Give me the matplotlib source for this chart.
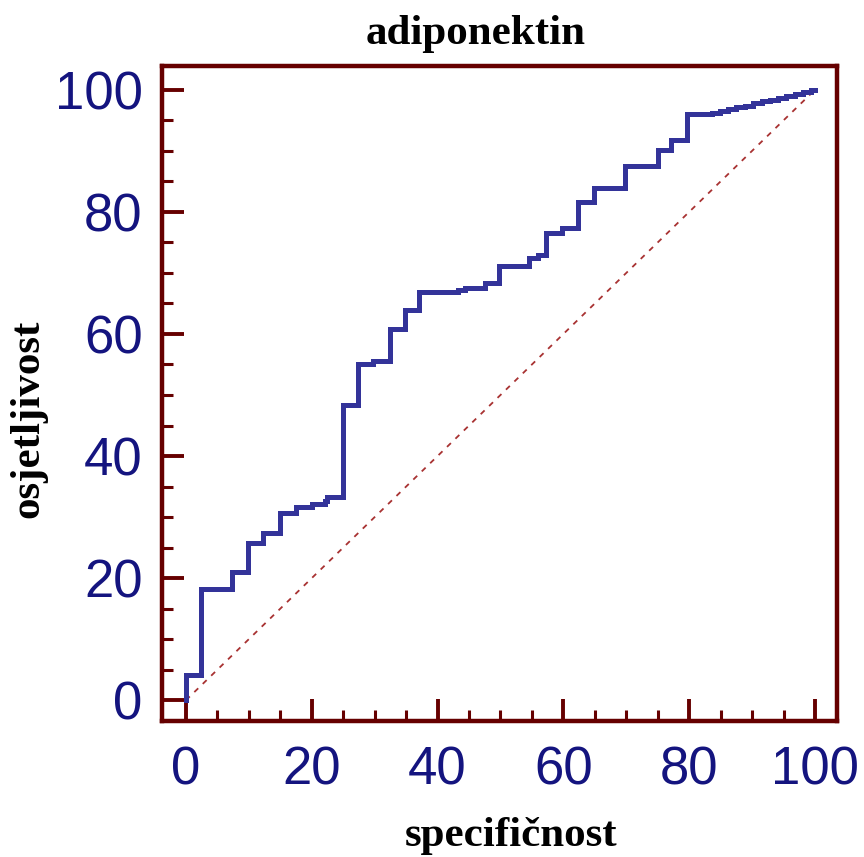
import numpy as np
import matplotlib
matplotlib.use('Agg')
import matplotlib.pyplot as plt
from matplotlib.ticker import MultipleLocator

# ROC curve: (100-specificity, sensitivity) step corners
spec = [0.0, 0.0, 2.4, 7.3, 9.8, 12.3, 14.9, 17.5, 20.0, 22.1, 22.5, 24.9,
        27.3, 29.7, 32.4, 34.8, 37.1, 43.2, 44.3, 47.5, 49.8, 54.6, 56.0,
        57.3, 59.8, 62.4, 64.9, 69.8, 75.1, 77.1, 79.7, 83.6, 84.9, 86.2,
        87.5, 88.9, 90.2, 91.5, 92.8, 94.1, 95.4, 96.8, 98.1, 99.4, 100.0]
sens = [0.0, 4.1, 18.2, 21.0, 25.8, 27.4, 30.7, 31.7, 32.1, 32.6, 33.3, 48.4,
        55.0, 55.6, 60.8, 64.0, 66.8, 67.2, 67.6, 68.4, 71.1, 72.4, 73.0,
        76.5, 77.3, 81.6, 83.9, 87.5, 90.1, 91.8, 96.0, 96.2, 96.5, 96.8,
        97.1, 97.4, 97.8, 98.1, 98.4, 98.7, 99.0, 99.3, 99.7, 99.9, 100.0]

ref_x = [0, 100]
ref_y = [0, 100]

TITLE = 'adiponektin'
XLABEL = 'specifičnost'
YLABEL = 'osjetljivost'

FRAME = '#660000'
TICKTXT = '#14147f'
CURVE = '#333399'
DIAG = '#a83232'

fig = plt.figure(figsize=(8.64, 8.57), dpi=100)
ax = fig.add_axes([0.1875, 0.1587, 0.7813, 0.7643])

ax.plot(ref_x, ref_y, color=DIAG, lw=1.3, ls=(0, (3, 3.5)), zorder=1)
ax.step(spec, sens, where='post', color=CURVE, lw=3.6, zorder=2,
        solid_joinstyle='miter')

ax.set_xlim(-3.8, 103.5)
ax.set_ylim(-3.4, 103.9)

ax.xaxis.set_major_locator(MultipleLocator(20))
ax.xaxis.set_minor_locator(MultipleLocator(5))
ax.yaxis.set_major_locator(MultipleLocator(20))
ax.yaxis.set_minor_locator(MultipleLocator(5))

for s in ax.spines.values():
    s.set_color(FRAME)
    s.set_linewidth(3.2)

ax.tick_params(axis='both', which='major', direction='in', length=16,
               width=2.8, color=FRAME, labelcolor=TICKTXT, labelsize=38,
               top=False, right=False)
ax.tick_params(axis='both', which='minor', direction='in', length=8,
               width=2.2, color=FRAME, top=False, right=False)
ax.tick_params(axis='y', which='major', pad=14)
ax.tick_params(axis='x', which='major', pad=18)
for lab in ax.get_xticklabels() + ax.get_yticklabels():
    lab.set_family('Liberation Sans')

serif = dict(family='Liberation Serif', weight='bold', color='black')
fig.text(476 / 864, 1 - 34 / 857, TITLE, ha='center', va='center',
         fontsize=31, **serif)
fig.text(511 / 864, 1 - 836 / 857, XLABEL, ha='center', va='center',
         fontsize=31, **serif)
fig.text(28 / 864, 1 - 419 / 857, YLABEL, ha='center', va='center',
         rotation=90, fontsize=31, **serif)

plt.savefig('out.png', dpi=100)
plt.close()
